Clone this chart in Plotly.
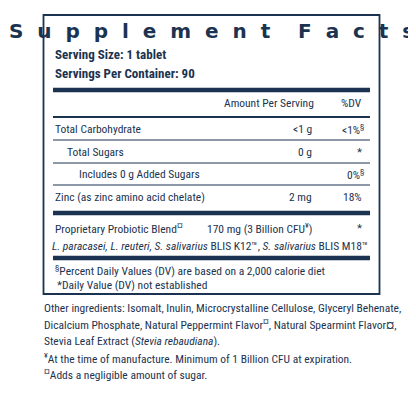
import plotly.graph_objects as go

NAVY = "#1b3350"
FONT = "Liberation Sans Narrow, Roboto Condensed, Arial Narrow, Roboto, sans-serif"

title = "Supplement Facts"
serving = ["<b>Serving Size: 1 tablet</b>", "<b>Servings Per Container: 90</b>"]
header = ["Amount Per Serving", "%DV"]
row_names = ["Total Carbohydrate", "Total Sugars", "Includes 0 g Added Sugars",
             "Zinc (as zinc amino acid chelate)"]
row_indent = [0, 12, 24, 0]
row_amounts = ["<1 g", "0 g", "", "2 mg"]
row_dv = ["<1%<sup>§</sup>", "*", "0%<sup>§</sup>", "18%"]
blend_name = "Proprietary Probiotic Blend<sup>¤</sup>"
blend_amount = "170 mg (3 Billion CFU<sup>¥</sup>)"
blend_dv = "*"
blend_strains = ("<i>L. paracasei, L. reuteri, S. salivarius</i> BLIS K12™, "
                 "<i>S. salivarius</i> BLIS M18™")
footnotes = ["<sup>§</sup>Percent Daily Values (DV) are based on a 2,000 calorie diet",
             "*Daily Value (DV) not established"]
other = ["Other ingredients: Isomalt, Inulin, Microcrystalline Cellulose, Glyceryl Behenate,",
         "Dicalcium Phosphate, Natural Peppermint Flavor<sup>¤</sup>, Natural Spearmint Flavor¤,",
         "Stevia Leaf Extract (<i>Stevia rebaudiana</i>).",
         "<sup>¥</sup>At the time of manufacture. Minimum of 1 Billion CFU at expiration.",
         "<sup>¤</sup>Adds a negligible amount of sugar."]

fig = go.Figure()
shapes = []
ann = []

def line(y, w):
    shapes.append(dict(type="line", x0=53, x1=370, y0=y, y1=y,
                       line=dict(color=NAVY, width=w), xref="x", yref="y"))

def text(x, y, t, size=11.5, anchor="left"):
    ann.append(dict(x=x, y=y, text=t, showarrow=False, xanchor=anchor, yanchor="middle",
                    font=dict(family=FONT, size=size, color=NAVY), xref="x", yref="y"))

shapes.append(dict(type="rect", x0=43.5, x1=379.5, y0=15, y1=294,
                   line=dict(color=NAVY, width=1.8)))
spaced = "&nbsp;&nbsp;&nbsp;&nbsp;".join("&nbsp;&nbsp;".join(w) for w in title.split())
ann.append(dict(x=211.5, y=31, text="<b>" + spaced + "</b>",
                showarrow=False, xanchor="center", yanchor="middle",
                font=dict(family="DejaVu Sans", size=20, color=NAVY)))
text(53, 54, serving[0], 13)
text(53, 73, serving[1], 13)
line(90, 4.5)
text(316, 103, header[0], 11.5, "right")
text(364, 103, header[1], 11.5, "right")
line(117, 2)
ys = [129, 152, 174, 197]
for i, n in enumerate(row_names):
    text(53 + row_indent[i], ys[i], n)
    if row_amounts[i]:
        text(314, ys[i], row_amounts[i], 11.5, "right")
    text(366 if "sup" in row_dv[i] else 364, ys[i], row_dv[i], 11.5, "right")
    if i < 3:
        line(ys[i] + 11, 1)
line(213, 4.5)
text(53, 228, blend_name)
text(314, 228, blend_amount, 11.5, "right")
text(364, 228, blend_dv, 11.5, "right")
text(370, 246, blend_strains, 11.5, "right")
line(258, 4.5)
text(53, 270, footnotes[0])
text(55, 284.5, footnotes[1])
for i, t in enumerate(other):
    text(42, 308 + i * 16.7, t, 11.5)

# compensate for the 8px default page body margin
fig.update_layout(width=416, height=416, margin=dict(l=0, r=0, t=0, b=0),
                  paper_bgcolor="white", plot_bgcolor="white",
                  xaxis=dict(range=[8, 424], visible=False, fixedrange=True),
                  yaxis=dict(range=[424, 8], visible=False, fixedrange=True),
                  shapes=shapes, annotations=ann, showlegend=False)
fig.write_html("out.html")
